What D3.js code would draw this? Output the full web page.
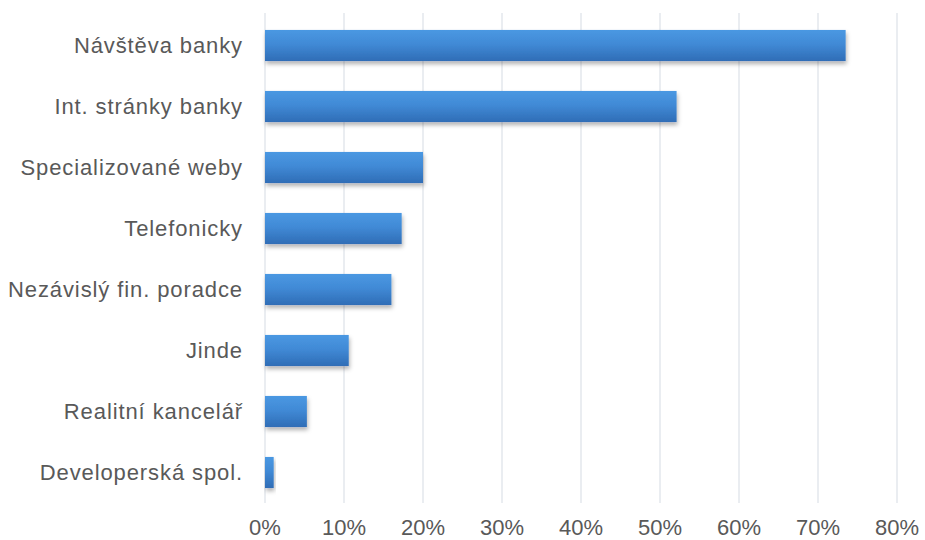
<!DOCTYPE html>
<html>
<head>
<meta charset="utf-8">
<script src="https://cdn.jsdelivr.net/npm/d3@7"></script>
<style>
  body { margin: 0; background: #fff; }
  svg { display: block; font-family: "Liberation Sans", Arial, sans-serif; }
</style>
</head>
<body>
<div class="chart"></div>
<script>
var width = 925;
var height = 540;

var categories = ['Návštěva banky', 'Int. stránky banky', 'Specializované weby', 'Telefonicky',
  'Nezávislý fin. poradce', 'Jinde', 'Realitní kancelář', 'Developerská spol.'];
var values = [73.5, 52.1, 20.0, 17.3, 16.0, 10.6, 5.3, 1.1];
var ticks = [0, 10, 20, 30, 40, 50, 60, 70, 80];

var x = d3.scaleLinear().domain([0, 80]).range([265, 897]);
var y = d3.scaleBand().domain(categories).range([15, 503]).paddingInner(0.49).paddingOuter(0.245);

var svg = d3.select('.chart').append('svg')
  .attr('width', width)
  .attr('height', height);

var defs = svg.append('defs');
var grad = defs.append('linearGradient')
  .attr('id', 'barGrad')
  .attr('x1', 0).attr('y1', 0).attr('x2', 0).attr('y2', 1);
grad.append('stop').attr('offset', '0%').attr('stop-color', '#4a98e2');
grad.append('stop').attr('offset', '45%').attr('stop-color', '#418ad6');
grad.append('stop').attr('offset', '100%').attr('stop-color', '#2f6db6');

var shadow = defs.append('filter')
  .attr('id', 'shadow')
  .attr('x', '-10%').attr('y', '-20%').attr('width', '130%').attr('height', '160%');
shadow.append('feDropShadow')
  .attr('dx', 1).attr('dy', 3).attr('stdDeviation', 2)
  .attr('flood-color', '#000').attr('flood-opacity', 0.3);

// grid lines
svg.append('g')
  .selectAll('line')
  .data(ticks)
  .enter().append('line')
  .attr('x1', d => x(d)).attr('x2', d => x(d))
  .attr('y1', 13).attr('y2', 503)
  .attr('stroke', '#dfe3ea')
  .attr('stroke-width', 1.3);

// bars
svg.append('g')
  .selectAll('rect')
  .data(values)
  .enter().append('rect')
  .attr('x', x(0))
  .attr('y', (d, i) => y(categories[i]))
  .attr('width', d => x(d) - x(0))
  .attr('height', y.bandwidth())
  .attr('fill', 'url(#barGrad)')
  .attr('filter', 'url(#shadow)');

// category labels
svg.append('g')
  .selectAll('text')
  .data(categories)
  .enter().append('text')
  .attr('x', 243)
  .attr('y', d => y(d) + y.bandwidth() / 2)
  .attr('dy', '0.35em')
  .attr('text-anchor', 'end')
  .attr('fill', '#595959')
  .style('font-size', '22px')
  .style('letter-spacing', '0.9px')
  .text(d => d);

// x tick labels
svg.append('g')
  .selectAll('text')
  .data(ticks)
  .enter().append('text')
  .attr('x', d => x(d))
  .attr('y', 527)
  .attr('dy', '0.35em')
  .attr('text-anchor', 'middle')
  .attr('fill', '#595959')
  .style('font-size', '22px')
  .text(d => d + '%');
</script>
</body>
</html>
